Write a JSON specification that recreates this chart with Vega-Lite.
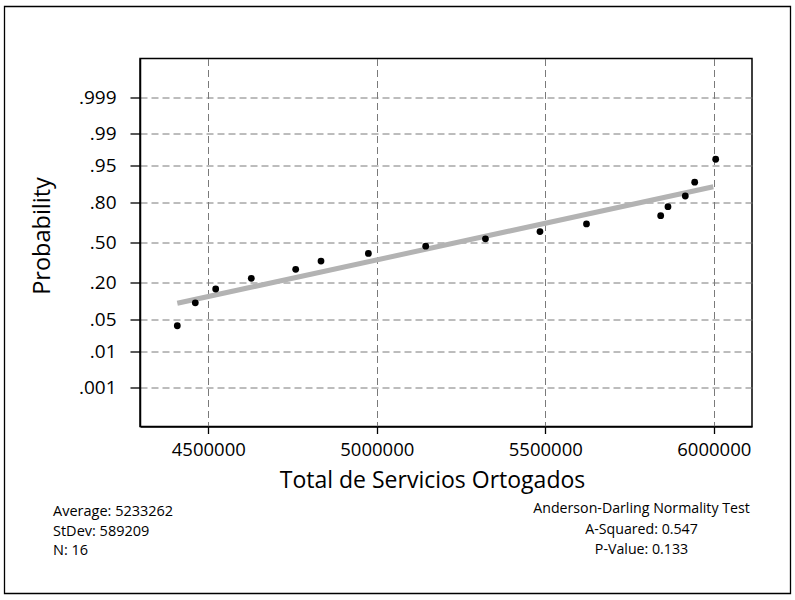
{
  "$schema": "https://vega.github.io/schema/vega-lite/v6.json",
  "width": 612,
  "height": 368,
  "autosize": {"type": "none"},
  "padding": {"left": 140, "top": 58.5, "right": 43, "bottom": 173.5},
  "background": "white",
  "config": {
    "font": "Open Sans",
    "view": {"stroke": "black", "strokeWidth": 1.5},
    "axis": {
      "domainColor": "black",
      "domainWidth": 1.5,
      "tickColor": "black",
      "tickWidth": 1.3,
      "labelColor": "black",
      "titleColor": "black",
      "labelFont": "Open Sans",
      "titleFont": "Open Sans",
      "titleFontWeight": "normal",
      "grid": true,
      "gridColor": "#7a7a7a",
      "gridDash": [7, 4],
      "gridWidth": 1
    }
  },
  "datasets": {
    "scores": [
      {"servicios": 4408000, "z": -1.7688},
      {"servicios": 4461400, "z": -1.2816},
      {"servicios": 4521900, "z": -0.9880},
      {"servicios": 4627600, "z": -0.7618},
      {"servicios": 4759300, "z": -0.5695},
      {"servicios": 4834400, "z": -0.3957},
      {"servicios": 4975000, "z": -0.2334},
      {"servicios": 5145100, "z": -0.0772},
      {"servicios": 5322400, "z": 0.0772},
      {"servicios": 5484200, "z": 0.2334},
      {"servicios": 5622200, "z": 0.3957},
      {"servicios": 5842400, "z": 0.5695},
      {"servicios": 5864000, "z": 0.7618},
      {"servicios": 5915400, "z": 0.9880},
      {"servicios": 5943300, "z": 1.2816},
      {"servicios": 6005600, "z": 1.7688}
    ],
    "fit": [
      {"servicios": 4408000, "z": -1.292},
      {"servicios": 5998500, "z": 1.186}
    ]
  },
  "layer": [
    {
      "data": {"name": "fit"},
      "mark": {"type": "line", "color": "#b3b3b3", "strokeWidth": 5, "strokeCap": "butt"},
      "encoding": {
        "x": {
          "field": "servicios",
          "type": "quantitative",
          "scale": {"domain": [4297300, 6113350], "nice": false, "zero": false},
          "axis": {
            "title": "Total de Servicios Ortogados",
            "values": [4500000, 5000000, 5500000, 6000000],
            "format": "d",
            "tickSize": 7,
            "labelPadding": 7,
            "labelFontSize": 18.5,
            "titleFontSize": 23,
            "titleX": 292,
            "titleY": 61,
            "titleAlign": "center",
            "titleBaseline": "alphabetic"
          }
        },
        "y": {
          "field": "z",
          "type": "quantitative",
          "scale": {"domain": [-3.91, 3.91], "nice": false, "zero": false},
          "axis": {
            "title": "Probability",
            "values": [-3.0902, -2.3263, -1.6449, -0.8416, 0, 0.8416, 1.6449, 2.3263, 3.0902],
            "labelExpr": "datum.value < -3 ? '.001' : datum.value < -2 ? '.01' : datum.value < -1 ? '.05' : datum.value < -0.5 ? '.20' : datum.value < 0.5 ? '.50' : datum.value < 1 ? '.80' : datum.value < 2 ? '.95' : datum.value < 3 ? '.99' : '.999'",
            "tickSize": 10,
            "labelPadding": 14,
            "labelFontSize": 19,
            "titleFontSize": 23.5,
            "titleX": -91,
            "titleY": 177,
            "titleBaseline": "alphabetic"
          }
        }
      }
    },
    {
      "data": {"name": "scores"},
      "mark": {"type": "circle", "color": "black", "size": 46, "opacity": 1},
      "encoding": {
        "x": {"field": "servicios", "type": "quantitative"},
        "y": {"field": "z", "type": "quantitative"}
      }
    },
    {
      "data": {"values": [{}]},
      "mark": {"type": "rect", "fillOpacity": 0, "stroke": "black", "strokeWidth": 1.3, "clip": false},
      "encoding": {
        "x": {"datum": 3895217},
        "x2": {"datum": 6227594},
        "y": {"datum": 5.015},
        "y2": {"datum": -7.459}
      }
    },
    {
      "data": {"values": [{}]},
      "mark": {
        "type": "text",
        "text": ["Average: 5233262", "StDev: 589209", "N: 16"],
        "align": "left",
        "baseline": "middle",
        "fontSize": 14.5,
        "lineHeight": 19.5,
        "color": "black"
      },
      "encoding": {
        "x": {"datum": 4039136},
        "y": {"datum": -5.727}
      }
    },
    {
      "data": {"values": [{}]},
      "mark": {
        "type": "text",
        "text": ["Anderson-Darling Normality Test", "A-Squared: 0.547", "P-Value: 0.133"],
        "align": "center",
        "baseline": "middle",
        "fontSize": 14.2,
        "lineHeight": 20.5,
        "color": "black"
      },
      "encoding": {
        "x": {"datum": 5785451},
        "y": {"datum": -5.669}
      }
    }
  ]
}
